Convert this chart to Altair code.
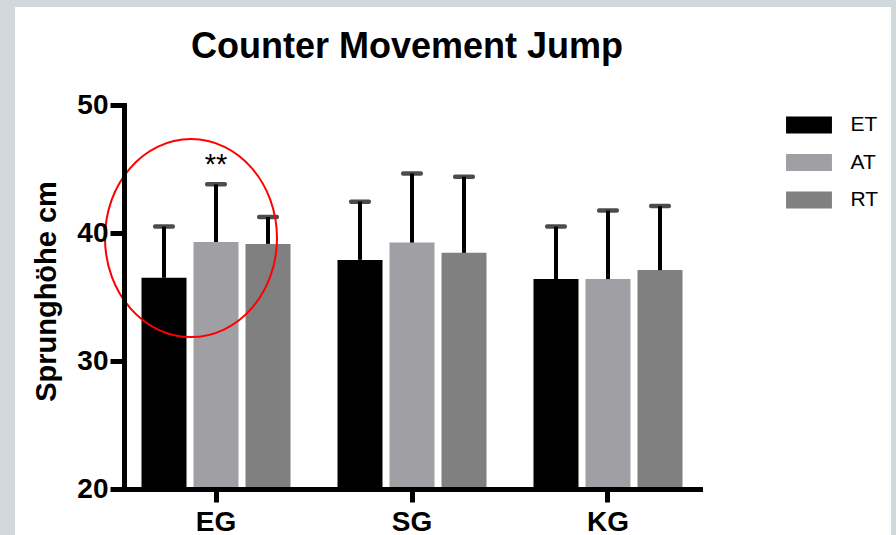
import altair as alt
import pandas as pd

# Groups on the x axis and the three test conditions
groups = ["EG", "SG", "KG"]
series = ["ET", "AT", "RT"]

# Mean jump height (cm) per group, one list per condition
mean_et = [36.5, 37.9, 36.4]
mean_at = [39.3, 39.25, 36.4]
mean_rt = [39.15, 38.45, 37.1]

# Standard deviations (drawn as upward error bars)
sd_et = [4.0, 4.55, 4.1]
sd_at = [4.5, 5.4, 5.35]
sd_rt = [2.1, 5.95, 5.0]

colors = ["#000000", "#a0a0a4", "#808080"]
y_ticks = [20, 30, 40, 50]
y_base = 20

# Significance marker
sig_group = ["EG"]
sig_test = ["AT"]
sig_label = ["**"]

# Highlight ring around the EG group (centre height in cm)
ring_group = ["EG"]
ring_center = [39.6]

rows = []
for s, m_list, sd_list in zip(series, [mean_et, mean_at, mean_rt], [sd_et, sd_at, sd_rt]):
    for g, m, sd in zip(groups, m_list, sd_list):
        rows.append({"Gruppe": g, "Test": s, "Mittelwert": m, "Oben": round(m + sd, 3)})
df = pd.DataFrame(rows)

upper = {(r["Gruppe"], r["Test"]): r["Oben"] for r in rows}
sig_df = pd.DataFrame({
    "Gruppe": sig_group,
    "Test": sig_test,
    "Label": sig_label,
    "Oben": [upper[(g, t)] for g, t in zip(sig_group, sig_test)],
})
ring_df = pd.DataFrame({"Gruppe": ring_group, "Mitte": ring_center})

x_enc = alt.X(
    "Gruppe:N",
    scale=alt.Scale(domain=groups, paddingInner=0.0612, paddingOuter=0),
    axis=alt.Axis(title=None, labelAngle=0, tickSize=13, labelPadding=6, zindex=2),
)
xoff_enc = alt.XOffset(
    "Test:N",
    scale=alt.Scale(domain=series, paddingInner=0.1346, paddingOuter=0.3365),
)


def y_enc(field):
    return alt.Y(
        field,
        scale=alt.Scale(domain=[20, 50], nice=False, zero=False),
        axis=alt.Axis(values=y_ticks, title="Sprunghöhe cm", tickSize=14,
                      labelPadding=2, titlePadding=15, titleFontSize=29,
                      titleY=186, zindex=2),
    )


ell = ("M0.61,0C0.61,0.547,0.225,0.99,-0.25,0.99C-0.725,0.99,-1.11,0.547,-1.11,0"
       "C-1.11,-0.547,-0.725,-0.99,-0.25,-0.99C0.225,-0.99,0.61,-0.547,0.61,0Z")

panel = alt.Chart(alt.Data(values=[{}])).mark_rect(color="white").encode(
    x=alt.value(-109), x2=alt.value(767), y=alt.value(-98), y2=alt.value(440)
)

bars = alt.Chart(df).mark_bar().encode(
    x=x_enc,
    xOffset=xoff_enc,
    y=y_enc("Mittelwert:Q"),
    y2=alt.datum(y_base),
    color=alt.Color(
        "Test:N",
        scale=alt.Scale(domain=series, range=colors),
        legend=alt.Legend(
            title=None, orient="none", legendX=674.5, legendY=9.5,
            symbolType="M-2.7,-1L2.7,-1L2.7,1L-2.7,1Z", symbolSize=289,
            symbolStrokeWidth=0, symbolOpacity=1, labelFontSize=21,
            labelOffset=31, rowPadding=15.5, padding=0, labelColor="black",
            zindex=2,
        ),
    ),
)

err = alt.Chart(df).mark_rule(color="black", strokeWidth=4).encode(
    x=x_enc, xOffset=xoff_enc, y=y_enc("Mittelwert:Q"), y2="Oben:Q"
)

caps = alt.Chart(df).mark_tick(color="black", size=22, thickness=4.5, cornerRadius=2).encode(
    x=x_enc, xOffset=xoff_enc, y=y_enc("Oben:Q")
)

stars = alt.Chart(sig_df).mark_text(
    fontSize=29, baseline="alphabetic", align="center", dy=-10, color="black"
).encode(x=x_enc, xOffset=xoff_enc, y=y_enc("Oben:Q"), text="Label:N")

ring = alt.Chart(ring_df).mark_point(
    shape=ell, size=40000, filled=False, stroke="red", strokeWidth=2, opacity=1
).encode(x=x_enc, y=y_enc("Mitte:Q"))

chart = alt.layer(panel, bars, err, caps, stars, ring).properties(
    width=576,
    height=384,
    autosize=alt.AutoSizeParams(type="none"),
    padding={"left": 124, "top": 105, "right": 196, "bottom": 46},
    title=alt.Title(
        "Counter Movement Jump", fontSize=36, fontWeight="bold", anchor="middle",
        offset=0, baseline="alphabetic", dy=87, dx=-5, color="black",
    ),
).configure(
    font="Liberation Sans", background="#d1d9dc"
).configure_view(
    stroke=None
).configure_axis(
    domainColor="black", domainWidth=5, domainCap="square", tickColor="black",
    tickWidth=5, labelColor="black", labelFontSize=28, labelFontWeight="bold",
    grid=False, titleFontSize=28, titleFontWeight="bold", titleColor="black",
)

chart.save("out.html", embed_options={"renderer": "svg", "actions": False})
